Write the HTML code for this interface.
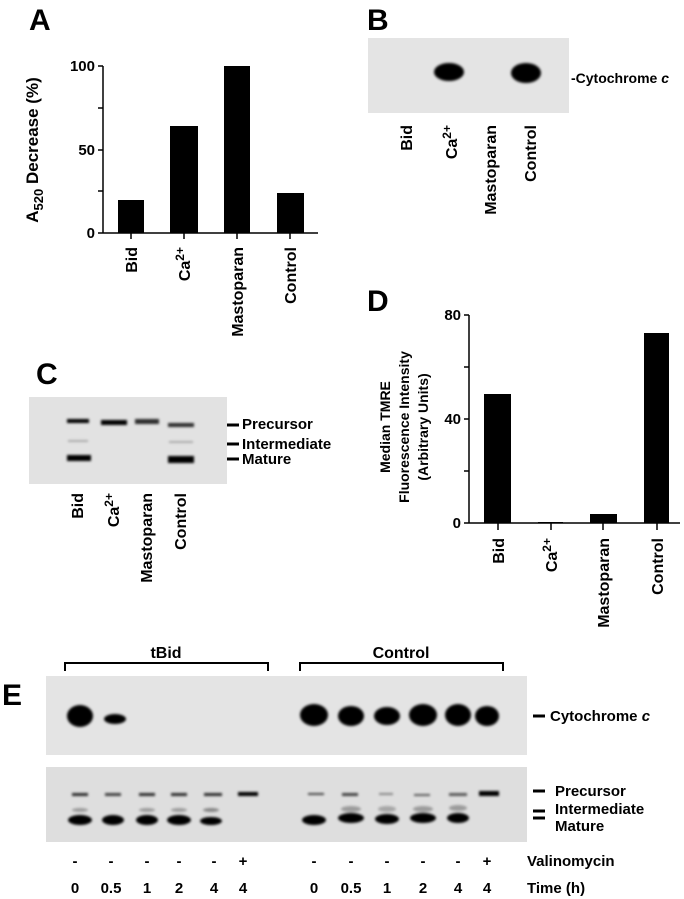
<!DOCTYPE html>
<html><head><meta charset="utf-8"><style>
html,body{margin:0;padding:0;background:#fff}
svg{display:block;font-family:"Liberation Sans",sans-serif;font-weight:bold}
</style></head><body>
<svg width="684" height="899" viewBox="0 0 684 899" xmlns="http://www.w3.org/2000/svg">
<defs><filter id="bl" x="-50%" y="-50%" width="200%" height="200%"><feGaussianBlur stdDeviation="1.3"/></filter></defs>
<!-- Panel A -->
<text x="29" y="30" font-size="30">A</text>
<g stroke="#000" stroke-width="1.5">
<line x1="103" y1="66" x2="103" y2="233"/>
<line x1="98" y1="233" x2="318" y2="233"/>
<line x1="98" y1="66" x2="103" y2="66"/><line x1="98" y1="108" x2="103" y2="108"/>
<line x1="98" y1="150" x2="103" y2="150"/><line x1="98" y1="191" x2="103" y2="191"/>
<line x1="131" y1="233" x2="131" y2="239"/><line x1="184" y1="233" x2="184" y2="239"/>
<line x1="237" y1="233" x2="237" y2="239"/><line x1="290" y1="233" x2="290" y2="239"/>
</g>
<rect x="118" y="200" width="26" height="33"/><rect x="170" y="126" width="28" height="107"/>
<rect x="224" y="66" width="26" height="167"/><rect x="277" y="193" width="27" height="40"/>
<g font-size="15" text-anchor="end"><text x="95" y="71">100</text><text x="95" y="155">50</text><text x="95" y="238">0</text></g>
<text transform="translate(38,150) rotate(-90)" font-size="17" text-anchor="middle">A<tspan font-size="13" dy="5">520</tspan><tspan dy="-5"> Decrease (%)</tspan></text>
<g font-size="16" text-anchor="end">
<text transform="translate(137,247) rotate(-90)">Bid</text>
<text transform="translate(190,247) rotate(-90)">Ca<tspan font-size="12" dy="-6">2+</tspan></text>
<text transform="translate(243,247) rotate(-90)">Mastoparan</text>
<text transform="translate(296,247) rotate(-90)">Control</text>
</g>
<!-- Panel B -->
<text x="367" y="30" font-size="30">B</text>
<rect x="368" y="38" width="201" height="75" fill="#e4e4e4"/>
<ellipse cx="449" cy="72" rx="15" ry="9" fill="#000" filter="url(#bl)"/>
<ellipse cx="526" cy="73" rx="15" ry="10" fill="#000" filter="url(#bl)"/>
<text x="571" y="83" font-size="14">-Cytochrome <tspan font-style="italic">c</tspan></text>
<g font-size="16" text-anchor="end">
<text transform="translate(412,125) rotate(-90)">Bid</text>
<text transform="translate(457,125) rotate(-90)">Ca<tspan font-size="12" dy="-6">2+</tspan></text>
<text transform="translate(496,125) rotate(-90)">Mastoparan</text>
<text transform="translate(536,125) rotate(-90)">Control</text>
</g>
<!-- Panel C -->
<text x="36" y="384" font-size="30">C</text>
<rect x="29" y="397" width="198" height="87" fill="#e2e2e2"/>
<g fill="#000" filter="url(#bl)">
<rect x="67" y="419" width="22" height="4"/><rect x="101" y="420" width="26" height="5"/>
<rect x="135" y="419" width="24" height="5" opacity="0.8"/><rect x="168" y="423" width="26" height="4" opacity="0.8"/>
<rect x="67" y="455" width="24" height="6"/><rect x="168" y="456" width="26" height="7"/>
<rect x="68" y="440" width="20" height="2" opacity="0.25"/><rect x="169" y="441" width="24" height="2" opacity="0.25"/>
</g>
<g stroke="#000" stroke-width="3"><line x1="227" y1="425" x2="239" y2="425"/><line x1="227" y1="444" x2="239" y2="444"/><line x1="227" y1="459" x2="239" y2="459"/></g>
<g font-size="15"><text x="242" y="429">Precursor</text><text x="242" y="449">Intermediate</text><text x="242" y="464">Mature</text></g>
<g font-size="16" text-anchor="end">
<text transform="translate(83,493) rotate(-90)">Bid</text>
<text transform="translate(119,493) rotate(-90)">Ca<tspan font-size="12" dy="-6">2+</tspan></text>
<text transform="translate(152,493) rotate(-90)">Mastoparan</text>
<text transform="translate(186,493) rotate(-90)">Control</text>
</g>
<!-- Panel D -->
<text x="367" y="311" font-size="30">D</text>
<g stroke="#000" stroke-width="1.5">
<line x1="469" y1="315" x2="469" y2="523"/><line x1="464" y1="523" x2="680" y2="523"/>
<line x1="464" y1="315" x2="469" y2="315"/><line x1="464" y1="367" x2="469" y2="367"/>
<line x1="464" y1="419" x2="469" y2="419"/><line x1="464" y1="471" x2="469" y2="471"/>
<line x1="498" y1="523" x2="498" y2="530"/><line x1="551" y1="523" x2="551" y2="530"/>
<line x1="603" y1="523" x2="603" y2="530"/><line x1="657" y1="523" x2="657" y2="530"/>
</g>
<rect x="484" y="394" width="27" height="129"/><rect x="538" y="522" width="25" height="1"/>
<rect x="590" y="514" width="27" height="9"/><rect x="644" y="333" width="25" height="190"/>
<g font-size="15" text-anchor="end"><text x="461" y="320">80</text><text x="461" y="424">40</text><text x="461" y="528">0</text></g>
<g font-size="14" text-anchor="middle">
<text transform="translate(390,427) rotate(-90)">Median TMRE</text>
<text transform="translate(409,427) rotate(-90)">Fluorescence Intensity</text>
<text transform="translate(428,427) rotate(-90)">(Arbitrary Units)</text>
</g>
<g font-size="16" text-anchor="end">
<text transform="translate(504,538) rotate(-90)">Bid</text>
<text transform="translate(557,538) rotate(-90)">Ca<tspan font-size="12" dy="-6">2+</tspan></text>
<text transform="translate(609,538) rotate(-90)">Mastoparan</text>
<text transform="translate(663,538) rotate(-90)">Control</text>
</g>
<!-- Panel E -->
<text x="2" y="705" font-size="30">E</text>
<g stroke="#000" stroke-width="2" fill="none">
<polyline points="65,671 65,663 268,663 268,671"/><polyline points="300,671 300,663 503,663 503,671"/>
</g>
<g font-size="16" text-anchor="middle"><text x="166" y="658">tBid</text><text x="401" y="658">Control</text></g>
<rect x="46" y="676" width="481" height="79" fill="#e4e4e4"/>
<g fill="#000" filter="url(#bl)">
<ellipse cx="80" cy="716" rx="13" ry="11"/><ellipse cx="115" cy="719" rx="11" ry="5"/>
<ellipse cx="314" cy="715" rx="14" ry="11"/><ellipse cx="351" cy="716" rx="13" ry="10"/>
<ellipse cx="387" cy="716" rx="13" ry="9"/><ellipse cx="423" cy="715" rx="14" ry="11"/>
<ellipse cx="458" cy="715" rx="13" ry="11"/><ellipse cx="487" cy="716" rx="12" ry="10"/>
</g>
<rect x="46" y="767" width="481" height="75" fill="#dedede"/>
<g fill="#000" filter="url(#bl)">
<rect x="72" y="793" width="16" height="3" opacity="0.8"/><rect x="105" y="793" width="16" height="3" opacity="0.7"/>
<rect x="139" y="793" width="16" height="3" opacity="0.8"/><rect x="171" y="793" width="16" height="3" opacity="0.8"/>
<rect x="204" y="793" width="18" height="3" opacity="0.8"/><rect x="238" y="792" width="20" height="4"/>
<rect x="308" y="793" width="16" height="2" opacity="0.7"/><rect x="342" y="793" width="16" height="3" opacity="0.7"/>
<rect x="379" y="793" width="14" height="2" opacity="0.4"/><rect x="414" y="794" width="16" height="2" opacity="0.6"/>
<rect x="449" y="793" width="18" height="3" opacity="0.6"/><rect x="479" y="791" width="20" height="5"/>
<ellipse cx="80" cy="820" rx="12" ry="5"/><ellipse cx="113" cy="820" rx="11" ry="5"/>
<ellipse cx="147" cy="820" rx="11" ry="5"/><ellipse cx="179" cy="820" rx="12" ry="5"/>
<ellipse cx="211" cy="821" rx="11" ry="4"/>
<ellipse cx="314" cy="820" rx="12" ry="5"/><ellipse cx="351" cy="818" rx="13" ry="5"/>
<ellipse cx="387" cy="819" rx="12" ry="5"/><ellipse cx="423" cy="818" rx="13" ry="5"/>
<ellipse cx="458" cy="818" rx="11" ry="5"/>
<ellipse cx="80" cy="810" rx="8" ry="2" opacity="0.3"/><ellipse cx="147" cy="810" rx="8" ry="2" opacity="0.3"/>
<ellipse cx="179" cy="810" rx="8" ry="2" opacity="0.3"/><ellipse cx="211" cy="810" rx="8" ry="2" opacity="0.4"/>
<ellipse cx="351" cy="809" rx="10" ry="3" opacity="0.3"/><ellipse cx="387" cy="809" rx="9" ry="3" opacity="0.25"/>
<ellipse cx="423" cy="809" rx="10" ry="3" opacity="0.3"/><ellipse cx="458" cy="808" rx="9" ry="3" opacity="0.3"/>
</g>
<g stroke="#000" stroke-width="3">
<line x1="533" y1="716" x2="545" y2="716"/><line x1="533" y1="791" x2="545" y2="791"/>
<line x1="533" y1="811" x2="545" y2="811"/><line x1="533" y1="818" x2="545" y2="818"/>
</g>
<g font-size="15">
<text x="550" y="721">Cytochrome <tspan font-style="italic">c</tspan></text>
<text x="555" y="796">Precursor</text><text x="555" y="814">Intermediate</text><text x="555" y="831">Mature</text>
<text x="527" y="866">Valinomycin</text><text x="527" y="893">Time (h)</text>
</g>
<g font-size="15" text-anchor="middle">
<text x="75" y="866">-</text><text x="111" y="866">-</text><text x="147" y="866">-</text><text x="179" y="866">-</text><text x="214" y="866">-</text><text x="243" y="866">+</text>
<text x="314" y="866">-</text><text x="351" y="866">-</text><text x="387" y="866">-</text><text x="423" y="866">-</text><text x="458" y="866">-</text><text x="487" y="866">+</text>
<text x="75" y="893">0</text><text x="111" y="893">0.5</text><text x="147" y="893">1</text><text x="179" y="893">2</text><text x="214" y="893">4</text><text x="243" y="893">4</text>
<text x="314" y="893">0</text><text x="351" y="893">0.5</text><text x="387" y="893">1</text><text x="423" y="893">2</text><text x="458" y="893">4</text><text x="487" y="893">4</text>
</g>
</svg>
</body></html>
